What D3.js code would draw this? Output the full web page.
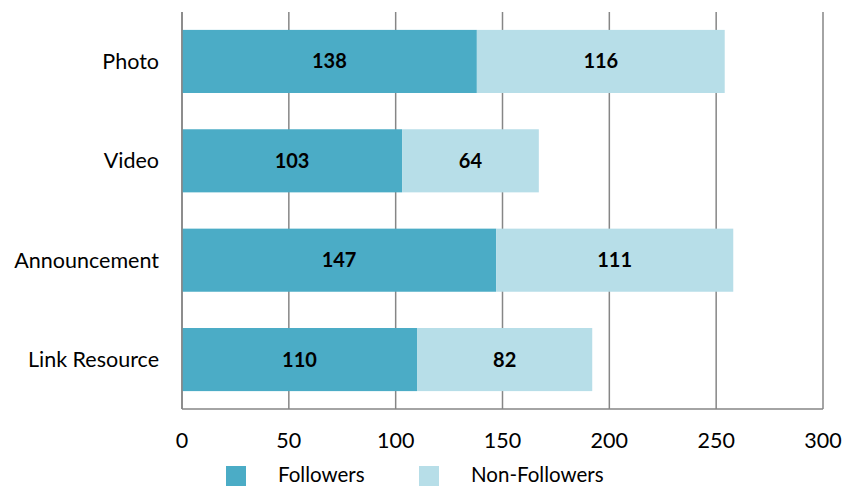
<!DOCTYPE html>
<html>
<head>
<meta charset="utf-8">
<script src="https://cdn.jsdelivr.net/npm/d3@7"></script>
<style>
  html, body { margin: 0; padding: 0; background: #fff; }
  svg { display: block; font-family: Lato, "Open Sans", sans-serif; }
</style>
</head>
<body>
<svg id="chart" width="843" height="487"></svg>
<script>
// Post types and engagement counts
const categories = ["Photo", "Video", "Announcement", "Link Resource"];
const followers = [138, 103, 147, 110];
const nonFollowers = [116, 64, 111, 82];
const seriesNames = ["Followers", "Non-Followers"];
const xTicks = [0, 50, 100, 150, 200, 250, 300];

const colors = ["#4BACC6", "#B7DEE8"];
const svg = d3.select("#chart");
const margin = { left: 182, right: 20, top: 12, bottom: 78 };
const W = 843, H = 487;
const plotBottom = H - margin.bottom;
const labelSize = 21.5;

const x = d3.scaleLinear().domain([0, 300]).range([margin.left, W - margin.right]);
const y = d3.scaleBand().domain(categories).range([margin.top, plotBottom])
  .paddingInner(0.365).paddingOuter(0.18);

// vertical gridlines
svg.append("g").selectAll("line").data(xTicks).join("line")
  .attr("x1", d => x(d)).attr("x2", d => x(d))
  .attr("y1", margin.top).attr("y2", plotBottom)
  .attr("stroke", "#868686").attr("stroke-width", 1.5);

// stacked data
const rows = categories.map((c, i) => ({ cat: c, Followers: followers[i], "Non-Followers": nonFollowers[i] }));
const stacked = d3.stack().keys(seriesNames)(rows);

const layers = svg.append("g").selectAll("g").data(stacked).join("g")
  .attr("fill", (d, i) => colors[i]);
layers.selectAll("rect").data(d => d).join("rect")
  .attr("x", d => x(d[0]))
  .attr("width", d => x(d[1]) - x(d[0]))
  .attr("y", d => y(d.data.cat))
  .attr("height", y.bandwidth());

// value labels
stacked.forEach(layer => {
  svg.append("g").selectAll("text").data(layer).join("text")
    .attr("x", d => (x(d[0]) + x(d[1])) / 2)
    .attr("y", d => y(d.data.cat) + y.bandwidth() / 2)
    .attr("dy", "0.35em")
    .attr("text-anchor", "middle")
    .attr("font-weight", "bold")
    .attr("font-size", 20)
    .attr("fill", "#000")
    .text(d => d[1] - d[0]);
});

// left axis line and bottom axis line
svg.append("line").attr("x1", x(0)).attr("x2", x(0)).attr("y1", margin.top).attr("y2", plotBottom)
  .attr("stroke", "#868686").attr("stroke-width", 1.5);
svg.append("line").attr("x1", x(0)).attr("x2", x(300)).attr("y1", plotBottom).attr("y2", plotBottom)
  .attr("stroke", "#868686").attr("stroke-width", 1.5);

// category labels
svg.append("g").selectAll("text").data(categories).join("text")
  .attr("x", margin.left - 23)
  .attr("y", d => y(d) + y.bandwidth() / 2)
  .attr("dy", "0.35em")
  .attr("text-anchor", "end")
  .attr("font-size", labelSize)
  .attr("fill", "#000")
  .text(d => d);

// x tick labels
svg.append("g").selectAll("text").data(xTicks).join("text")
  .attr("x", d => x(d))
  .attr("y", 440)
  .attr("dy", "0.35em")
  .attr("text-anchor", "middle")
  .attr("font-size", labelSize)
  .attr("fill", "#000")
  .text(d => d);

// legend
const legendX = [226, 419];
const legend = svg.append("g").selectAll("g").data(seriesNames).join("g")
  .attr("transform", (d, i) => `translate(${legendX[i]},466)`);
legend.append("rect").attr("width", 20).attr("height", 20).attr("fill", (d, i) => colors[i]);
legend.append("text").attr("x", 52).attr("y", 9).attr("dy", "0.35em")
  .attr("font-size", 20.5).attr("fill", "#000").text(d => d);
</script>
</body>
</html>
